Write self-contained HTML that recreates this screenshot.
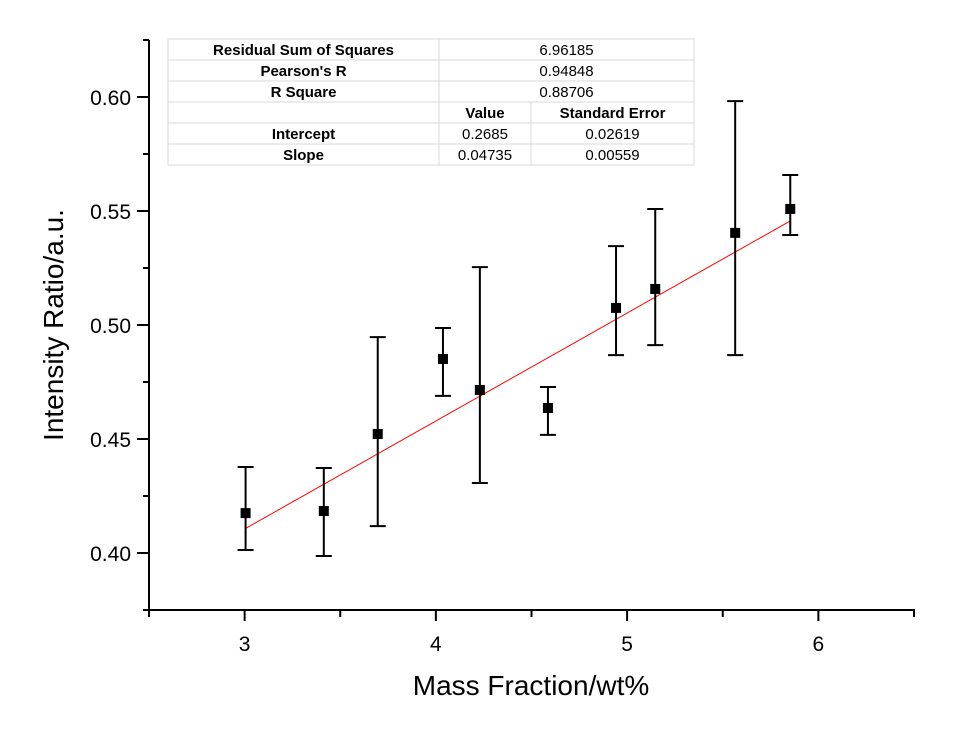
<!DOCTYPE html>
<html><head><meta charset="utf-8"><style>
body{margin:0;background:#fff}
svg text{font-family:"Liberation Sans",Arial,sans-serif}
</style></head><body>
<svg id="c" width="956" height="730" xmlns="http://www.w3.org/2000/svg">
<g id="tbl"></g>
<g id="ax"></g>
<g id="fit"></g>
<g id="pts"></g>
<text x="531" y="695" font-size="28" text-anchor="middle">Mass Fraction/wt%</text>
<text transform="translate(63,325) rotate(-90)" font-size="28" text-anchor="middle">Intensity Ratio/a.u.</text>
</svg>
<script>
const xs=[3.005,3.414,3.696,4.037,4.230,4.586,4.942,5.147,5.565,5.853];
const ys=[0.4175,0.4184,0.4522,0.4851,0.4715,0.4636,0.5075,0.5158,0.5404,0.5509];
const errHi=[0.4377,0.4373,0.4947,0.4987,0.5254,0.4728,0.5346,0.5509,0.5982,0.5658];
const errLo=[0.4013,0.3987,0.4118,0.4689,0.4307,0.4518,0.4868,0.4912,0.4868,0.5395];
const intercept=0.2685, slope=0.04735;
const xTicks=[3,4,5,6];
const yTicks=[0.40,0.45,0.50,0.55,0.60];
const yTickLabels=["0.40","0.45","0.50","0.55","0.60"];
const tableRows=[["Residual Sum of Squares","6.96185"],["Pearson's R","0.94848"],["R Square","0.88706"],["","Value","Standard Error"],["Intercept","0.2685","0.02619"],["Slope","0.04735","0.00559"]];

const NS="http://www.w3.org/2000/svg";
const X0=149,X1=914,Y0=610,Y1=40,xmin=2.5,xmax=6.5,ymin=0.375,ymax=0.625;
const sx=v=>X0+(v-xmin)/(xmax-xmin)*(X1-X0);
const sy=v=>Y0-(v-ymin)/(ymax-ymin)*(Y0-Y1);
function mk(p,t,a){const e=document.createElementNS(NS,t);for(const k in a)e.setAttribute(k,a[k]);p.appendChild(e);return e;}
const ax=document.getElementById('ax');
let l=mk(ax,'line',{x1:X0,y1:Y1,x2:X0,y2:Y0+1,stroke:'#000','stroke-width':2});


l=mk(ax,'line',{x1:X0-6,y1:Y0,x2:X1+1,y2:Y0,stroke:'#000','stroke-width':2});


for(let v=2.5;v<=6.51;v+=0.5){const maj=Math.abs(v-Math.round(v))<0.01;const t=mk(ax,'line',{x1:sx(v),y1:Y0,x2:sx(v),y2:Y0+(maj?11:7),stroke:'#000','stroke-width':2});

}
xTicks.forEach(v=>{const t=mk(ax,'text',{x:sx(v),y:Y0+41,'font-size':21,'text-anchor':'middle'});t.textContent=v;

});
for(let v=0.375;v<=0.626;v+=0.025){const maj=Math.abs(v*20-Math.round(v*20))<0.01;const t=mk(ax,'line',{x1:X0-(maj?12:6),y1:sy(v),x2:X0,y2:sy(v),stroke:'#000','stroke-width':2});

}
yTicks.forEach((v,i)=>{const t=mk(ax,'text',{x:X0-18,y:sy(v)+8,'font-size':21,'text-anchor':'end'});t.textContent=yTickLabels[i];

});
const fit=document.getElementById('fit');
const fx0=Math.min(...xs),fx1=Math.max(...xs);
l=mk(fit,'line',{x1:sx(fx0),y1:sy(intercept+slope*fx0),x2:sx(fx1),y2:sy(intercept+slope*fx1),stroke:'#ff0000','stroke-width':1});


const pts=document.getElementById('pts');
xs.forEach((x,i)=>{const cx=sx(x);
const g=mk(pts,'g',{});


mk(g,'line',{x1:cx,y1:sy(errHi[i]),x2:cx,y2:sy(errLo[i]),stroke:'#000','stroke-width':2});
mk(g,'line',{x1:cx-8,y1:sy(errHi[i]),x2:cx+8,y2:sy(errHi[i]),stroke:'#000','stroke-width':2});
mk(g,'line',{x1:cx-8,y1:sy(errLo[i]),x2:cx+8,y2:sy(errLo[i]),stroke:'#000','stroke-width':2});
mk(g,'rect',{x:cx-5,y:sy(ys[i])-5,width:10,height:10,fill:'#000'});});
const tb=document.getElementById('tbl');
const TX=[168,439,531,694],TY=39,RH=21;
tableRows.forEach((r,i)=>{const y=TY+i*RH;
mk(tb,'rect',{x:TX[0],y:y,width:TX[3]-TX[0],height:RH,fill:'#fff',stroke:'#d9d9d9','stroke-width':1});
mk(tb,'line',{x1:TX[1],y1:y,x2:TX[1],y2:y+RH,stroke:'#d9d9d9'});
if(r.length===3)mk(tb,'line',{x1:TX[2],y1:y,x2:TX[2],y2:y+RH,stroke:'#d9d9d9'});
let t=mk(tb,'text',{x:(TX[0]+TX[1])/2,y:y+16,'font-size':15,'font-weight':'bold','text-anchor':'middle'});t.textContent=r[0];


const bold=(i===3);
if(r.length===2){t=mk(tb,'text',{x:(TX[1]+TX[3])/2,y:y+16,'font-size':15,'text-anchor':'middle'});t.textContent=r[1];

}
else{[1,2].forEach(k=>{t=mk(tb,'text',{x:(TX[k]+TX[k+1])/2,y:y+16,'font-size':15,'text-anchor':'middle','font-weight':bold?'bold':'normal'});t.textContent=r[k];

});}
});
</script>
</body></html>
